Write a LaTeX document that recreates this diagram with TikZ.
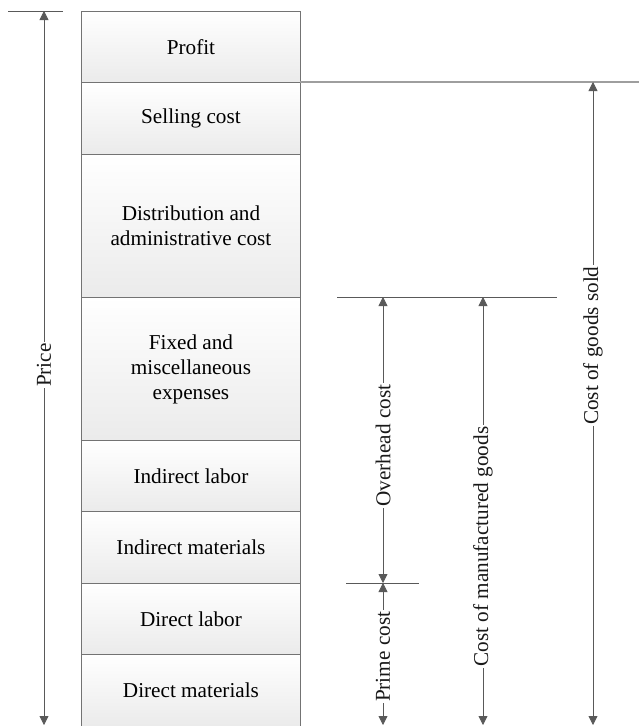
\documentclass[tikz,border=0pt]{standalone}
\usepackage{fontspec}
\setmainfont{Liberation Serif}
\usetikzlibrary{arrows.meta}
\begin{document}
\begin{tikzpicture}[x=1pt,y=-1pt,
  txt/.style={font=\fontsize{21.2}{25}\selectfont},
  box/.style={txt, draw=black!55, line width=0.9pt, top color=white, bottom color=black!8,
    minimum width=219pt, inner sep=0pt, anchor=north west, align=center},
  dim/.style={draw=black!65, line width=0.8pt, {Triangle[length=9pt,width=9pt]}-{Triangle[length=9pt,width=9pt]}},
  lab/.style={txt, fill=white, rotate=90, inner xsep=1.5pt, inner ysep=0pt, text=black!90},
  refl/.style={draw=black!65, line width=0.8pt}]
\useasboundingbox (0,0) rectangle (639,726);
% stacked boxes
\node[box, minimum height=71pt]  (profit) at (81,11)  {Profit};
\node[box, minimum height=72pt]  (sell)   at (81,82)  {Selling cost};
\node[box, minimum height=143pt] (dist)   at (81,154) {Distribution and\\administrative cost};
\node[box, minimum height=143pt] (fixed)  at (81,297) {Fixed and\\miscellaneous\\expenses};
\node[box, minimum height=71pt]  (ilab)   at (81,440) {Indirect labor};
\node[box, minimum height=72pt]  (imat)   at (81,511) {Indirect materials};
\node[box, minimum height=71pt]  (dlab)   at (81,583) {Direct labor};
\node[box, minimum height=72pt]  (dmat)   at (81,654) {Direct materials};
% reference lines
\coordinate (t1) at (8,11);   \coordinate (t2) at (63,11);
\coordinate (g1) at (300,82); \coordinate (g2) at (639,82);
\coordinate (o1) at (337,297);\coordinate (o2) at (557,297);
\coordinate (p1) at (346,583);\coordinate (p2) at (419,583);
\draw[refl] (t1) -- (t2);
\draw[draw=black!38, line width=1.2pt] (g1) -- (g2);
\draw[refl] (o1) -- (o2);
\draw[refl] (p1) -- (p2);
% arrow end points
\coordinate (pr1) at (44,11);   \coordinate (pr2) at (44,725);
\coordinate (cg1) at (593,82);  \coordinate (cg2) at (593,725);
\coordinate (oh1) at (383,297); \coordinate (oh2) at (383,583);
\coordinate (pc2) at (383,725);
\coordinate (cm1) at (483,297); \coordinate (cm2) at (483,725);
% dimension arrows
\draw[dim] (pr1) -- node[lab, pos=0.496] (lprice) {Price} (pr2);
\draw[dim] (cg1) -- node[lab, pos=0.41] (lcgs) {Cost of goods sold} (cg2);
\draw[dim] (oh1) -- node[lab, pos=0.52] (loh) {Overhead cost} (oh2);
\draw[dim] (oh2) -- node[lab, pos=0.52] (lpc) {Prime cost} (pc2);
\draw[dim] (cm1) -- node[lab, pos=0.583] (lcm) {Cost of manufactured goods} (cm2);
\end{tikzpicture}
\end{document}
